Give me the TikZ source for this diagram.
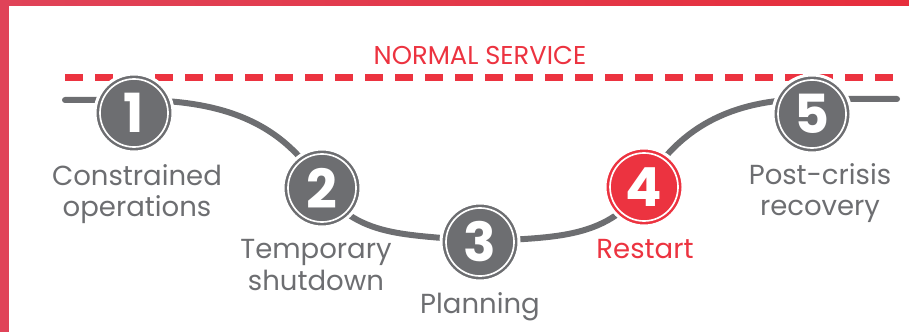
\documentclass[tikz,border=0pt]{standalone}
\usepackage{fontspec}
\setmainfont{Poppins}
\definecolor{stepgray}{HTML}{6D6E71}
\definecolor{stepred}{HTML}{EC3340}
\definecolor{framered}{HTML}{E04358}
\definecolor{framered2}{HTML}{E62E3C}

\begin{document}
\begin{tikzpicture}[x=0.03cm, y=0.03cm,
    stepcircle/.style={circle, fill=stepgray, draw=white, line width=0.09cm,
      minimum size=2.34cm, inner sep=0pt, text=white,
      font=\fontsize{46}{46}\selectfont\bfseries},
    steplabel/.style={align=center, text=stepgray,
      font=\fontsize{23.5}{27}\selectfont}]
  \useasboundingbox (0,0) rectangle (909,332);

  % Draw the red frame on the left and the top
  \fill[framered] (0,0) rectangle (9,332);
  \shade[left color=framered, right color=framered2] (0,326) rectangle (909,332);

  % Draw the dashed line for normal service
  \node[text=stepred, font=\fontsize{22}{22}\selectfont] (normal) at (480,277) {NORMAL SERVICE};
  \coordinate (dashL) at (65,254.5);
  \coordinate (dashR) at (900,254.5);
  \draw[stepred, line width=0.21cm, dash pattern=on 0.54cm off 0.36cm] (dashL) -- (dashR);

  % Points the curve runs through
  \coordinate (start) at (65,232);
  \coordinate (p1) at (134,232);
  \coordinate (p2) at (322,144);
  \coordinate (p3) at (480,90);
  \coordinate (p4) at (644,145);
  \coordinate (p5) at (812,233);
  \coordinate (end) at (897,233);

  % Draw the curve
  \draw[stepgray, line width=0.18cm, line cap=round] (start) -- (p1)
    to[out=0, in=120] (p2) to[out=-55, in=172] (p3)
    to[out=5, in=-125] (p4) to[out=60, in=180] (p5) -- (end);

  % Place the numbered circles
  \node[stepcircle] (s1) at (134,219) {1};
  \node[stepcircle] (s2) at (322,144) {2};
  \node[stepcircle] (s3) at (480,90) {3};
  \node[stepcircle, fill=stepred] (s4) at (644,145) {4};
  \node[stepcircle] (s5) at (812,218) {5};
  \foreach \s in {s1,s2,s3,s4,s5}
    \draw[white, line width=0.05cm] (\s.center) circle (1.02cm);

  % Add the text
  \node[steplabel] (l1) at (137,138) {Constrained\\operations};
  \node[steplabel] (l2) at (316,67) {Temporary\\shutdown};
  \node[steplabel] (l3) at (480,25) {Planning};
  \node[steplabel, text=stepred] (l4) at (645,83) {Restart};
  \node[steplabel] (l5) at (820,139) {Post-crisis\\recovery};
\end{tikzpicture}
\end{document}
